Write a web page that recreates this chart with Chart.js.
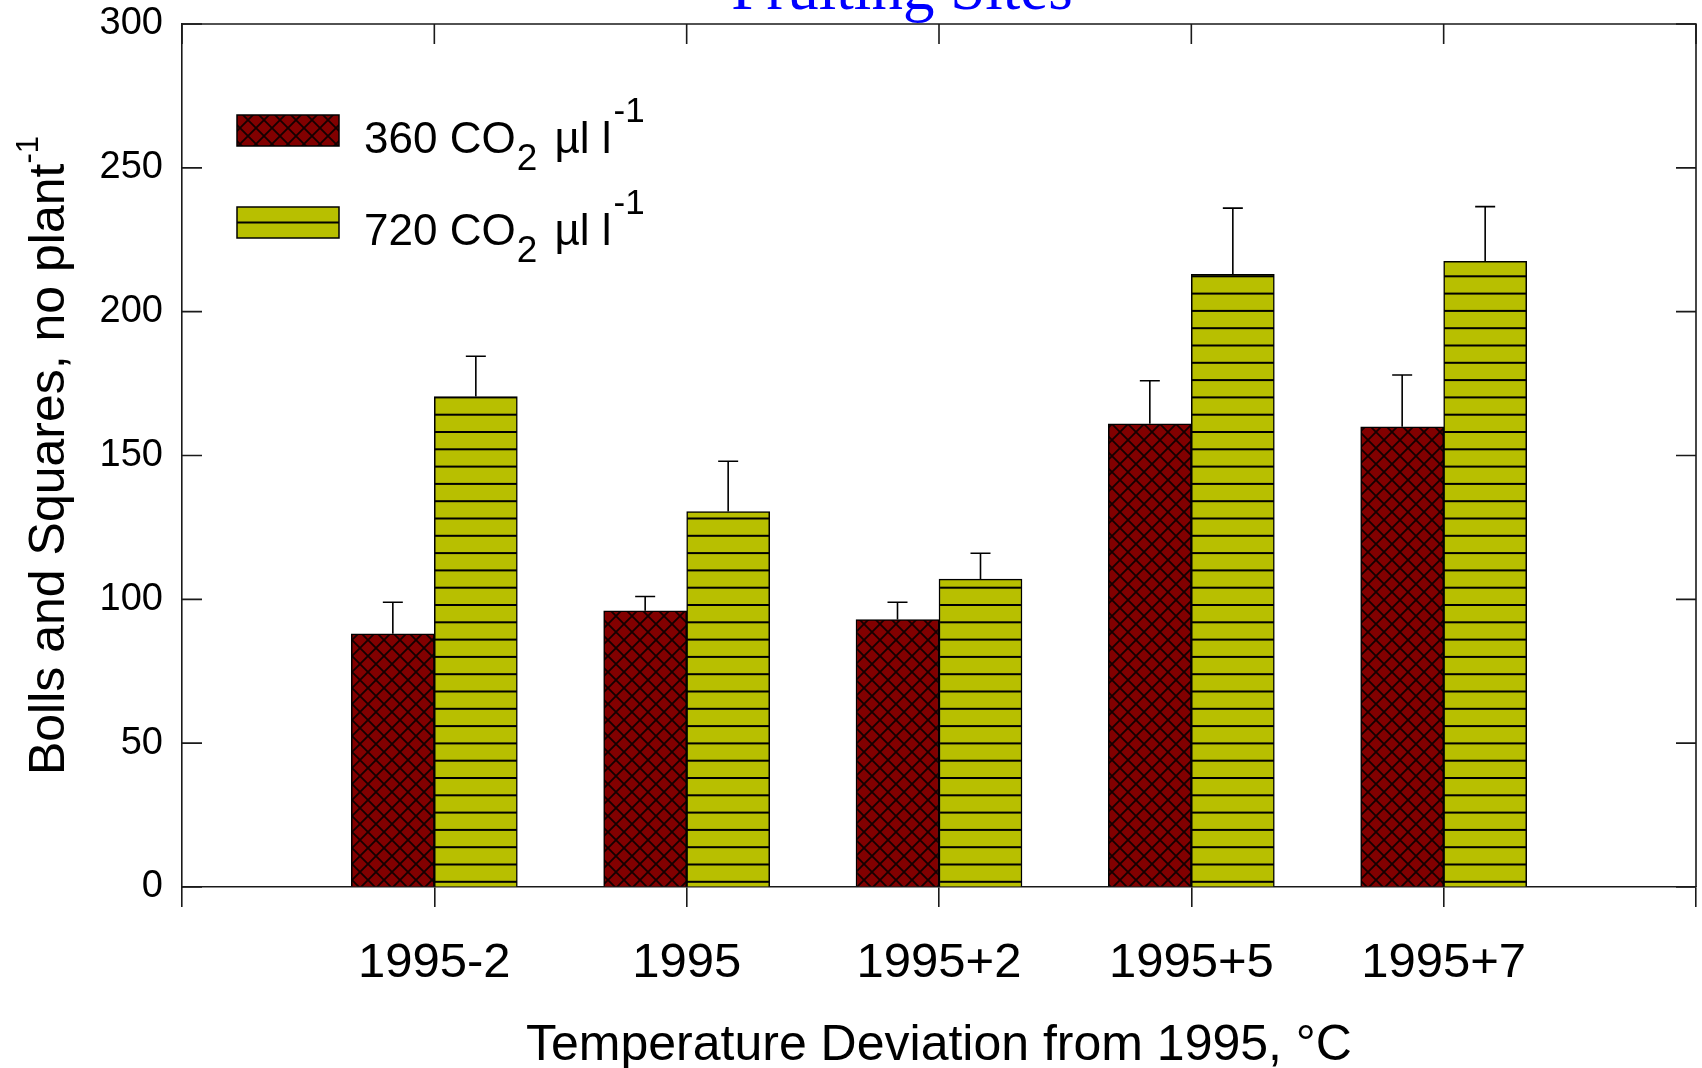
<!DOCTYPE html>
<html><head><meta charset="utf-8">
<script src="https://cdn.jsdelivr.net/npm/chart.js@4"></script>
<style>html,body{margin:0;padding:0;background:#fff;overflow:hidden}#wrap{width:1702px;height:1068px;position:relative}</style>
</head><body><div id="wrap"><canvas id="c" width="1702" height="1068"></canvas></div>
<script>
// ---- data ----
const categories = ['', '1995-2', '1995', '1995+2', '1995+5', '1995+7', ''];
const co2_360 = [null, 88, 96, 93, 161, 160, null];
const co2_360_err = [null, 11, 5, 6, 15, 18, null];
const co2_720 = [null, 170.5, 130.5, 107, 213, 217.5, null];
const co2_720_err = [null, 14, 17.5, 9, 23, 19, null];
const yTicks = [0, 50, 100, 150, 200, 250, 300];
const seriesNames = ['360', '720'];
const titleText = 'Fruiting Sites';
const xTitle = 'Temperature Deviation from 1995, \u00B0C';
const yTitleMain = 'Bolls and Squares, no plant';
const yTitleSup = '-1';

const FONT = "'Liberation Sans', Arial, sans-serif";
const RED = '#820000';
const GREEN = '#b8bf00';
const LINE = '#1a1a1a';

function crossPattern() {
  const s = 16, c = document.createElement('canvas');
  c.width = s; c.height = s;
  const g = c.getContext('2d');
  g.fillStyle = RED; g.fillRect(0, 0, s, s);
  g.strokeStyle = '#140000'; g.lineWidth = 1.8;
  g.beginPath();
  for (const k of [-s, 0, s]) {
    g.moveTo(-4 + k, -4); g.lineTo(s + 4 + k, s + 4);
    g.moveTo(s + 4 + k, -4); g.lineTo(-4 + k, s + 4);
  }
  g.stroke();
  return g.createPattern(c, 'repeat');
}
function hLinePattern() {
  const per = 17.3, n = 10, h = Math.round(per * n), c = document.createElement('canvas');
  c.width = 4; c.height = h;
  const g = c.getContext('2d');
  g.fillStyle = GREEN; g.fillRect(0, 0, 4, h);
  g.fillStyle = '#000';
  for (let k = 0; k <= n; k++) {
    const y = -0.5 + per * k;
    g.fillRect(0, y - 1, 4, 2);
  }
  return g.createPattern(c, 'repeat');
}
const redPat = crossPattern();
const greenPat = hLinePattern();

const errors = [co2_360_err, co2_720_err];

const decor = {
  id: 'decor',
  afterDatasetsDraw(chart) {
    const ctx = chart.ctx, y = chart.scales.y;
    ctx.save();
    ctx.strokeStyle = '#000'; ctx.lineWidth = 1.6;
    chart.data.datasets.forEach((ds, di) => {
      const meta = chart.getDatasetMeta(di);
      meta.data.forEach((bar, i) => {
        const v = ds.data[i], e = errors[di][i];
        if (v == null || e == null) return;
        const yt = y.getPixelForValue(v + e);
        ctx.beginPath();
        ctx.moveTo(bar.x, bar.y); ctx.lineTo(bar.x, yt);
        ctx.moveTo(bar.x - 10, yt); ctx.lineTo(bar.x + 10, yt);
        ctx.stroke();
      });
    });
    ctx.restore();
  },
  afterDraw(chart) {
    const ctx = chart.ctx, a = chart.chartArea, xs = chart.scales.x, ys = chart.scales.y;
    ctx.save();
    // frame top/right
    ctx.strokeStyle = LINE; ctx.lineWidth = 1.6;
    ctx.beginPath();
    ctx.moveTo(a.left, a.top); ctx.lineTo(a.right, a.top); ctx.lineTo(a.right, a.bottom);
    ctx.stroke();
    // inward ticks
    ctx.beginPath();
    yTicks.forEach(t => {
      const py = ys.getPixelForValue(t);
      ctx.moveTo(a.left, py); ctx.lineTo(a.left + 20, py);
      ctx.moveTo(a.right, py); ctx.lineTo(a.right - 20, py);
    });
    categories.forEach((c, i) => {
      const px = xs.getPixelForValue(i);
      ctx.moveTo(px, a.top); ctx.lineTo(px, a.top + 20);
    });
    ctx.stroke();
    // title
    ctx.fillStyle = '#0000ff';
    ctx.font = "63px 'Liberation Serif', 'Times New Roman', serif";
    ctx.textAlign = 'center'; ctx.textBaseline = 'alphabetic';
    ctx.fillText(titleText, 902, 9);
    // y title
    ctx.fillStyle = '#000';
    ctx.textAlign = 'left';
    const mainF = '50px ' + FONT, supF = '31px ' + FONT;
    ctx.font = mainF; const wMain = ctx.measureText(yTitleMain).width;
    ctx.font = supF; const wSup = ctx.measureText(yTitleSup).width;
    const total = wMain + wSup;
    ctx.save();
    ctx.translate(64, (a.top + a.bottom) / 2);
    ctx.rotate(-Math.PI / 2);
    ctx.font = mainF; ctx.fillText(yTitleMain, -total / 2, 0);
    ctx.font = supF; ctx.fillText(yTitleSup, -total / 2 + wMain, -26);
    ctx.restore();
    // legend
    const rows = [{pat: redPat, y: 115, name: seriesNames[0], kind: 'x'}, {pat: greenPat, y: 207, name: seriesNames[1], kind: 'h'}];
    rows.forEach(r => {
      const bx = 237, bw = 102, bh = 31;
      if (r.kind === 'x') { ctx.fillStyle = r.pat; ctx.fillRect(bx, r.y, bw, bh); }
      else {
        ctx.fillStyle = GREEN; ctx.fillRect(bx, r.y, bw, bh);
        ctx.fillStyle = '#000'; ctx.fillRect(bx, r.y + bh / 2 - 1, bw, 2);
      }
      ctx.strokeStyle = '#000'; ctx.lineWidth = 1.5; ctx.strokeRect(bx, r.y, bw, bh);
      const base = r.y + 38;
      let x = 364;
      ctx.fillStyle = '#000';
      ctx.font = '44px ' + FONT; ctx.fillText(r.name + ' CO', x, base); x += ctx.measureText(r.name + ' CO').width + 1;
      ctx.font = '37px ' + FONT; ctx.fillText('2', x, base + 17); x += ctx.measureText('2').width + 5;
      ctx.font = '44px ' + FONT; ctx.fillText(' \u00B5l l', x, base); x += ctx.measureText(' \u00B5l l').width + 2;
      ctx.font = '35px ' + FONT; ctx.fillText('-1', x, base - 31);
    });
    ctx.restore();
  }
};

new Chart(document.getElementById('c'), {
  type: 'bar',
  data: {
    labels: categories,
    datasets: [
      {label: seriesNames[0], data: co2_360, backgroundColor: redPat, borderColor: '#000', borderWidth: 1.5, barThickness: 83},
      {label: seriesNames[1], data: co2_720, backgroundColor: greenPat, borderColor: '#000', borderWidth: 1.5, barThickness: 83}
    ]
  },
  options: {
    responsive: false, animation: false, devicePixelRatio: 1,
    layout: {padding: {top: 24, right: 6, left: 0, bottom: 0}},
    plugins: {legend: {display: false}, tooltip: {enabled: false}, title: {display: false}},
    scales: {
      x: {
        type: 'category', offset: false,
        grid: {offset: false, drawOnChartArea: false, drawTicks: true, tickLength: 20, color: LINE, lineWidth: 1.6},
        border: {display: true, color: LINE, width: 1.6},
        ticks: {font: {size: 49, family: FONT}, color: '#000', padding: 27, maxRotation: 0, autoSkip: false},
        title: {display: true, text: xTitle, color: '#000', font: {size: 50, family: FONT, lineHeight: 1}, padding: {top: 0, bottom: -3}},
        afterFit(s) { s.height = 181; s.paddingLeft = 0; s.paddingRight = 0; }
      },
      y: {
        min: 0, max: 300,
        afterBuildTicks(s) { s.ticks = yTicks.map(v => ({value: v})); },
        grid: {drawOnChartArea: false, drawTicks: false},
        border: {display: true, color: LINE, width: 1.6},
        ticks: {font: {size: 38, family: FONT}, color: '#000', padding: 19},
        afterFit(s) { s.width = 182; s.paddingTop = 0; s.paddingBottom = 0; }
      }
    }
  },
  plugins: [decor]
});
</script></body></html>
